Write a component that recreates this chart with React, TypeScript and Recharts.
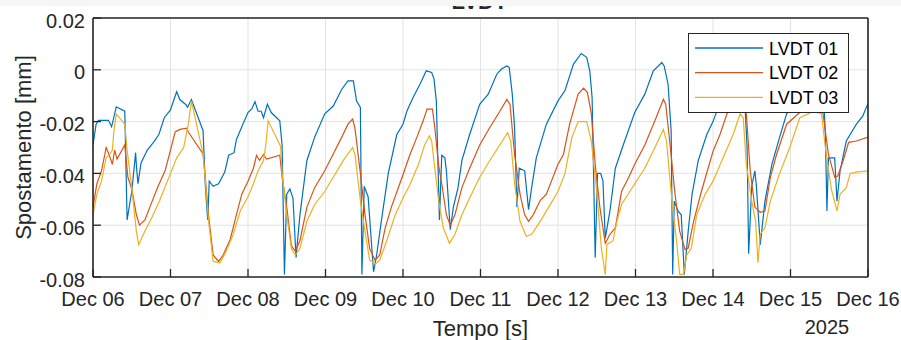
import { LineChart, Line, XAxis, YAxis, CartesianGrid, Legend } from 'recharts'

// time in days since Dec 06 00:00, displacement in mm
const dayTicks = [0, 1, 2, 3, 4, 5, 6, 7, 8, 9, 10]
const dayLabels = ['Dec 06', 'Dec 07', 'Dec 08', 'Dec 09', 'Dec 10', 'Dec 11', 'Dec 12', 'Dec 13', 'Dec 14', 'Dec 15', 'Dec 16']
const valueTicks = [-0.08, -0.06, -0.04, -0.02, 0, 0.02]
const yearLabel = '2025'

const seriesNames = ['LVDT 01', 'LVDT 02', 'LVDT 03']
const seriesColors = ['#0072BD', '#D95319', '#EDB120']

const lvdt01: [number, number][] = [
  [0.00, -0.029], [0.04, -0.021], [0.07, -0.0195], [0.20, -0.0195], [0.24, -0.022], [0.30, -0.0143],
  [0.41, -0.016], [0.44, -0.058], [0.50, -0.047], [0.55, -0.032], [0.56, -0.037], [0.58, -0.044],
  [0.62, -0.036], [0.70, -0.031], [0.78, -0.028], [0.85, -0.025], [0.92, -0.0185], [1.00, -0.0155],
  [1.05, -0.011], [1.08, -0.0085], [1.12, -0.0115], [1.20, -0.0135], [1.22, -0.0145], [1.27, -0.0115],
  [1.42, -0.0235], [1.45, -0.045], [1.48, -0.058], [1.50, -0.043], [1.55, -0.045], [1.62, -0.044],
  [1.70, -0.0395], [1.75, -0.033], [1.82, -0.032], [1.85, -0.027], [1.92, -0.022], [2.00, -0.0165],
  [2.05, -0.015], [2.09, -0.0123], [2.13, -0.016], [2.17, -0.016], [2.20, -0.0185], [2.25, -0.0133],
  [2.30, -0.0165], [2.41, -0.0197], [2.44, -0.029], [2.47, -0.079], [2.50, -0.048], [2.54, -0.046],
  [2.58, -0.0495], [2.62, -0.0725], [2.67, -0.056], [2.76, -0.035], [2.86, -0.026], [2.99, -0.017],
  [3.10, -0.014], [3.21, -0.0075], [3.29, -0.0043], [3.36, -0.0043], [3.40, -0.012], [3.45, -0.0145],
  [3.47, -0.079], [3.50, -0.045], [3.55, -0.049], [3.62, -0.078], [3.66, -0.0715], [3.72, -0.0585],
  [3.81, -0.040], [3.92, -0.025], [4.00, -0.021], [4.05, -0.016], [4.13, -0.0107], [4.22, -0.0055],
  [4.30, -0.0004], [4.37, -0.001], [4.40, -0.0036], [4.43, -0.012], [4.47, -0.058], [4.50, -0.033],
  [4.54, -0.034], [4.56, -0.039], [4.61, -0.0617], [4.65, -0.053], [4.71, -0.0455], [4.76, -0.035],
  [4.86, -0.025], [4.99, -0.0133], [5.10, -0.0094], [5.21, -0.0017], [5.27, 0.0003], [5.34, 0.0015],
  [5.37, 0.0009], [5.41, -0.0094], [5.44, -0.0225], [5.47, -0.053], [5.50, -0.038], [5.57, -0.039],
  [5.62, -0.054], [5.66, -0.0455], [5.72, -0.034], [5.85, -0.021], [6.00, -0.012], [6.09, -0.008],
  [6.20, 0.0022], [6.30, 0.0063], [6.37, 0.0048], [6.41, -0.0004], [6.44, -0.0107], [6.48, -0.0726],
  [6.51, -0.040], [6.55, -0.040], [6.58, -0.043], [6.61, -0.065], [6.67, -0.0545], [6.74, -0.038],
  [6.86, -0.0275], [6.99, -0.0165], [7.12, -0.0094], [7.23, -0.0004], [7.34, 0.0028], [7.37, 0.0015],
  [7.42, -0.0055], [7.46, -0.0236], [7.48, -0.079], [7.50, -0.0507], [7.55, -0.0546], [7.59, -0.056],
  [7.63, -0.079], [7.68, -0.0623], [7.73, -0.048], [7.81, -0.035], [7.92, -0.025], [8.00, -0.02],
  [8.10, -0.012], [8.22, -0.006], [8.35, -0.003], [8.41, -0.012], [8.44, -0.03], [8.46, -0.071],
  [8.50, -0.045], [8.54, -0.039], [8.56, -0.045], [8.61, -0.0675], [8.67, -0.0507], [8.76, -0.0365],
  [8.86, -0.026], [8.95, -0.017], [9.10, -0.011], [9.25, -0.006], [9.38, -0.004], [9.43, -0.012],
  [9.45, -0.025], [9.47, -0.0545], [9.49, -0.034], [9.57, -0.034], [9.60, -0.0507], [9.64, -0.039],
  [9.72, -0.0275], [9.85, -0.021], [9.93, -0.018], [10.0, -0.013],
]

const lvdt02: [number, number][] = [
  [0.00, -0.053], [0.05, -0.044], [0.11, -0.039], [0.17, -0.030], [0.21, -0.033], [0.25, -0.0365],
  [0.28, -0.031], [0.31, -0.0345], [0.41, -0.029], [0.45, -0.0415], [0.50, -0.046], [0.56, -0.056],
  [0.60, -0.060], [0.67, -0.058], [0.76, -0.051], [0.84, -0.045], [0.93, -0.039], [1.00, -0.031],
  [1.06, -0.024], [1.12, -0.023], [1.21, -0.0225], [1.23, -0.024], [1.42, -0.0325], [1.45, -0.042],
  [1.49, -0.056], [1.55, -0.0715], [1.62, -0.074], [1.68, -0.0715], [1.77, -0.0655], [1.85, -0.056],
  [1.92, -0.048], [2.00, -0.043], [2.07, -0.038], [2.11, -0.033], [2.15, -0.035], [2.20, -0.0327],
  [2.24, -0.0345], [2.41, -0.033], [2.44, -0.0415], [2.50, -0.053], [2.56, -0.068], [2.61, -0.070],
  [2.67, -0.066], [2.76, -0.053], [2.86, -0.0455], [2.99, -0.039], [3.10, -0.0325], [3.21, -0.026],
  [3.29, -0.021], [3.35, -0.019], [3.38, -0.0225], [3.45, -0.040], [3.51, -0.056], [3.57, -0.069],
  [3.64, -0.0735], [3.70, -0.0715], [3.77, -0.061], [3.85, -0.053], [4.00, -0.0405], [4.09, -0.0327],
  [4.18, -0.026], [4.26, -0.0197], [4.31, -0.0152], [4.38, -0.0152], [4.41, -0.0223], [4.46, -0.037],
  [4.50, -0.044], [4.56, -0.056], [4.61, -0.060], [4.67, -0.056], [4.76, -0.0455], [4.86, -0.038],
  [4.99, -0.029], [5.12, -0.0223], [5.25, -0.016], [5.34, -0.0114], [5.38, -0.0133], [5.44, -0.0327],
  [5.51, -0.048], [5.57, -0.056], [5.62, -0.0585], [5.68, -0.056], [5.77, -0.0505], [5.85, -0.048],
  [6.00, -0.0365], [6.07, -0.0327], [6.15, -0.021], [6.26, -0.0094], [6.33, -0.0071], [6.38, -0.0088],
  [6.43, -0.017], [6.48, -0.0365], [6.54, -0.053], [6.61, -0.067], [6.67, -0.0635], [6.74, -0.061],
  [6.82, -0.047], [6.91, -0.0417], [6.99, -0.0365], [7.12, -0.029], [7.25, -0.0197], [7.36, -0.0114],
  [7.39, -0.0133], [7.45, -0.030], [7.51, -0.048], [7.57, -0.0623], [7.64, -0.0694], [7.68, -0.0688],
  [7.75, -0.0585], [7.85, -0.047], [8.00, -0.0315], [8.09, -0.025], [8.18, -0.017], [8.30, -0.013],
  [8.38, -0.012], [8.43, -0.017], [8.48, -0.039], [8.54, -0.053], [8.61, -0.055], [8.67, -0.0545],
  [8.74, -0.0415], [8.82, -0.0327], [8.95, -0.021], [9.10, -0.017], [9.30, -0.013], [9.38, -0.012],
  [9.42, -0.017], [9.49, -0.0327], [9.57, -0.0415], [9.61, -0.041], [9.68, -0.035], [9.75, -0.028],
  [9.85, -0.0275], [10.0, -0.026],
]

const lvdt03: [number, number][] = [
  [0.00, -0.056], [0.05, -0.048], [0.11, -0.043], [0.17, -0.034], [0.22, -0.0325], [0.25, -0.031],
  [0.27, -0.0235], [0.30, -0.017], [0.41, -0.021], [0.44, -0.031], [0.50, -0.0455], [0.56, -0.0625],
  [0.59, -0.0675], [0.65, -0.0635], [0.76, -0.057], [0.86, -0.0505], [1.00, -0.040], [1.08, -0.034],
  [1.17, -0.030], [1.23, -0.021], [1.27, -0.012], [1.42, -0.0325], [1.45, -0.043], [1.49, -0.058],
  [1.55, -0.074], [1.64, -0.0745], [1.72, -0.070], [1.81, -0.0635], [1.90, -0.0545], [2.00, -0.049],
  [2.07, -0.044], [2.13, -0.039], [2.20, -0.035], [2.23, -0.029], [2.26, -0.0197], [2.42, -0.0295],
  [2.44, -0.040], [2.50, -0.056], [2.56, -0.069], [2.61, -0.0715], [2.67, -0.069], [2.76, -0.0585],
  [2.86, -0.052], [2.99, -0.047], [3.10, -0.0415], [3.23, -0.035], [3.35, -0.030], [3.38, -0.0327],
  [3.45, -0.0505], [3.51, -0.0625], [3.57, -0.0735], [3.64, -0.075], [3.70, -0.0735], [3.79, -0.066],
  [3.90, -0.056], [4.00, -0.0495], [4.09, -0.0443], [4.20, -0.0365], [4.28, -0.029], [4.34, -0.0255],
  [4.37, -0.0275], [4.41, -0.038], [4.46, -0.0505], [4.52, -0.061], [4.60, -0.067], [4.67, -0.0635],
  [4.76, -0.056], [4.86, -0.0495], [4.99, -0.0415], [5.12, -0.035], [5.25, -0.029], [5.35, -0.0243],
  [5.39, -0.0275], [5.44, -0.044], [5.51, -0.0585], [5.59, -0.0643], [5.66, -0.0635], [5.77, -0.0585],
  [5.88, -0.053], [6.00, -0.047], [6.09, -0.040], [6.18, -0.026], [6.26, -0.020], [6.37, -0.020],
  [6.43, -0.0275], [6.50, -0.047], [6.56, -0.069], [6.61, -0.079], [6.63, -0.0675], [6.71, -0.066],
  [6.76, -0.0585], [6.82, -0.052], [6.99, -0.044], [7.12, -0.038], [7.25, -0.030], [7.36, -0.023],
  [7.40, -0.0275], [7.47, -0.0507], [7.53, -0.066], [7.57, -0.079], [7.62, -0.079], [7.66, -0.0716],
  [7.72, -0.069], [7.79, -0.056], [7.90, -0.048], [8.00, -0.043], [8.13, -0.034], [8.26, -0.025],
  [8.35, -0.017], [8.39, -0.0185], [8.43, -0.0365], [8.50, -0.0507], [8.55, -0.0585], [8.58, -0.0745],
  [8.61, -0.0635], [8.67, -0.061], [8.74, -0.0507], [8.86, -0.040], [8.99, -0.030], [9.12, -0.0185],
  [9.30, -0.016], [9.40, -0.017], [9.45, -0.030], [9.53, -0.0465], [9.60, -0.0545], [9.64, -0.048],
  [9.72, -0.0455], [9.77, -0.040], [9.85, -0.0395], [10.0, -0.039],
]

const FONT = '"Liberation Sans", Arial, Helvetica, sans-serif'
const INK = '#262626'

const toRows = (pts: [number, number][]) => pts.map(([t, v]) => ({ t, v }))
const seriesData = [toRows(lvdt01), toRows(lvdt02), toRows(lvdt03)]

const fmtValue = (v: number) => (Math.abs(v) < 1e-9 ? '0' : v.toFixed(2))

// MATLAB style: ticks point inward, labels outside
function BottomTick({ x, y, payload }: any) {
  return (
    <g>
      <line x1={x} x2={x} y1={y} y2={y - 8} stroke={INK} strokeWidth={1.3} />
      <text x={x} y={y + 29} textAnchor="middle" fontSize={20} fontFamily={FONT} fill={INK}>
        {dayLabels[dayTicks.indexOf(payload.value)]}
      </text>
    </g>
  )
}

function TopTick({ x, y }: any) {
  return <line x1={x} x2={x} y1={y} y2={y + 8} stroke={INK} strokeWidth={1.3} />
}

function LeftTick({ x, y, payload }: any) {
  return (
    <g>
      <line x1={x} x2={x + 8} y1={y} y2={y} stroke={INK} strokeWidth={1.3} />
      <text x={x - 8} y={y + 9.5} textAnchor="end" fontSize={20} fontFamily={FONT} fill={INK}>
        {fmtValue(payload.value)}
      </text>
    </g>
  )
}

function RightTick({ x, y }: any) {
  return <line x1={x} x2={x - 8} y1={y} y2={y} stroke={INK} strokeWidth={1.3} />
}

function XLabels({ viewBox }: any) {
  const { x, width } = viewBox
  return (
    <g fontFamily={FONT} fill={INK}>
      <text x={x + width / 2} y={336} textAnchor="middle" fontSize={22}>Tempo [s]</text>
      <text x={x + width - 41} y={334} textAnchor="middle" fontSize={20}>{yearLabel}</text>
    </g>
  )
}

function TitleLabel({ viewBox }: any) {
  const { x, width } = viewBox
  return (
    <text x={x + width / 2 - 1} y={9} textAnchor="middle" fontSize={22} fontWeight="bold" fontFamily={FONT} fill={INK}>
      LVDT
    </text>
  )
}

function YLabel({ viewBox }: any) {
  const { y, height } = viewBox
  const cy = y + height / 2
  return (
    <text x={31} y={cy} transform={`rotate(-90, 31, ${cy})`} textAnchor="middle" fontSize={22} fontFamily={FONT} fill={INK}>
      Spostamento [mm]
    </text>
  )
}

function LegendBox({ payload }: any) {
  return (
    <div style={{ width: 161, height: 80, border: `1px solid ${INK}`, background: '#fff', boxSizing: 'border-box' }}>
      <svg width={159} height={78} style={{ display: 'block' }}>
        {(payload || []).map((p: any, i: number) => (
          <g key={p.value}>
            <line x1={6} x2={74} y1={14 + i * 24.7} y2={14 + i * 24.7} stroke={p.color} strokeWidth={1.3} />
            <text x={80} y={14 + i * 24.7 + 6.5} fontSize={18} fontFamily={FONT} fill="#000">{p.value}</text>
          </g>
        ))}
      </svg>
    </div>
  )
}

export default function App() {
  const axisLine = { stroke: INK, strokeWidth: 1.6 }
  return (
    <div style={{ position: 'absolute', left: 0, top: 0, width: 901, height: 340, background: '#fff' }}>
      <LineChart width={901} height={340} margin={{ top: 17, right: 32, bottom: 62, left: 0 }}>
        <CartesianGrid xAxisId="b" yAxisId="l" stroke="#e3e3e3" strokeWidth={1} />
        <XAxis
          xAxisId="b"
          dataKey="t"
          type="number"
          domain={[0, 10]}
          ticks={dayTicks}
          allowDataOverflow
          height={1}
          tickSize={0}
          tickMargin={0}
          tick={<BottomTick />}
          axisLine={axisLine}
          tickLine={false}
          label={<XLabels />}
        />
        <XAxis
          xAxisId="top"
          orientation="top"
          type="number"
          domain={[0, 10]}
          ticks={dayTicks}
          height={1}
          tickSize={0}
          tickMargin={0}
          tick={<TopTick />}
          axisLine={axisLine}
          tickLine={false}
          label={<TitleLabel />}
        />
        <YAxis
          yAxisId="l"
          type="number"
          domain={[-0.08, 0.02]}
          ticks={valueTicks}
          allowDataOverflow
          width={93}
          tickSize={0}
          tickMargin={0}
          tick={<LeftTick />}
          axisLine={axisLine}
          tickLine={false}
          label={<YLabel />}
        />
        <YAxis
          yAxisId="r"
          orientation="right"
          type="number"
          domain={[-0.08, 0.02]}
          ticks={valueTicks}
          width={1}
          tickSize={0}
          tickMargin={0}
          tick={<RightTick />}
          axisLine={axisLine}
          tickLine={false}
        />
        {seriesData.map((rows, i) => (
          <Line
            key={seriesNames[i]}
            xAxisId="b"
            yAxisId="l"
            data={rows}
            dataKey="v"
            name={seriesNames[i]}
            type="linear"
            stroke={seriesColors[i]}
            strokeWidth={1.2}
            dot={false}
            activeDot={false}
            isAnimationActive={false}
          />
        ))}
        <Legend
          layout="vertical"
          align="center"
          verticalAlign="middle"
          content={<LegendBox />}
          wrapperStyle={{ left: 688, top: 33, width: 161, height: 80, margin: 0 }}
        />
      </LineChart>
      <div style={{ position: 'absolute', left: 0, top: 0, width: 901, height: 6, background: '#f6f6f6' }} />
    </div>
  )
}
